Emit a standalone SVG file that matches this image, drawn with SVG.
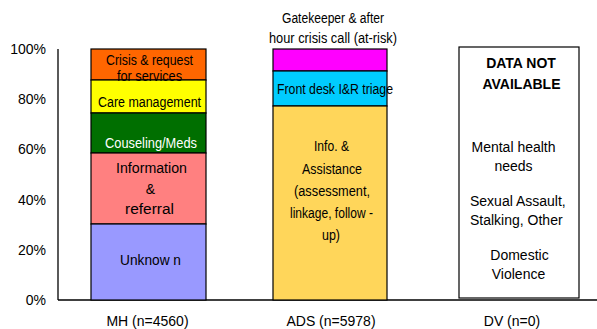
<svg xmlns="http://www.w3.org/2000/svg" width="597" height="329" viewBox="0 0 597 329">
<style>
text{font-family:"Liberation Sans",Arial,sans-serif;font-size:14px;fill:#000}
.c{text-anchor:middle}
.e{text-anchor:end}
.b{font-weight:bold}
.w{fill:#fff}
.seg{stroke:#000;stroke-width:1.2}
.ax{stroke:#000;stroke-width:1.3;fill:none}
</style>
<rect width="597" height="329" fill="#fff"/>
<g id="axes">
<line class="ax" x1="58" y1="49" x2="58" y2="300"/>
<line class="ax" x1="58" y1="300" x2="597" y2="300"/>
<text class="e" x="46" y="54">100%</text>
<text class="e" x="46" y="104">80%</text>
<text class="e" x="46" y="154">60%</text>
<text class="e" x="46" y="205">40%</text>
<text class="e" x="46" y="255">20%</text>
<text class="e" x="46" y="305">0%</text>
<text class="c" x="147.5" y="325.5">MH (n=4560)</text>
<text class="c" x="331" y="325.5">ADS (n=5978)</text>
<text class="c" x="512" y="325.5">DV (n=0)</text>
</g>
<g id="connectors"></g>
<g id="mh-bar">
<rect class="seg" x="91" y="49" width="115" height="31" fill="#FF6600"/>
<rect class="seg" x="91" y="80" width="115" height="33" fill="#FFFF00"/>
<rect class="seg" x="91" y="113" width="115" height="40" fill="#006F00"/>
<rect class="seg" x="91" y="153" width="115" height="71" fill="#FF8080"/>
<rect class="seg" x="91" y="224" width="115" height="76" fill="#9999FF"/>
<text x="106" y="65" textLength="87" lengthAdjust="spacingAndGlyphs">Crisis &amp; request</text>
<text x="117" y="80.5" textLength="65" lengthAdjust="spacingAndGlyphs">for services</text>
<text x="98" y="107" textLength="103" lengthAdjust="spacingAndGlyphs">Care management</text>
<text class="w" x="105" y="148" textLength="92" lengthAdjust="spacingAndGlyphs">Couseling/Meds</text>
<text x="116" y="173" textLength="71" lengthAdjust="spacingAndGlyphs">Information</text>
<text class="c" x="150.5" y="193.5">&amp;</text>
<text x="125" y="214" textLength="49" lengthAdjust="spacingAndGlyphs">referral</text>
<text x="120" y="265" textLength="61" lengthAdjust="spacingAndGlyphs">Unknow n</text>
</g>
<g id="ads-bar">
<rect class="seg" x="273" y="49" width="114" height="22" fill="#FF00FF"/>
<rect class="seg" x="273" y="71" width="114" height="35" fill="#00CCFF"/>
<rect class="seg" x="273" y="106" width="114" height="194" fill="#FFD65A"/>
<text x="282" y="22.5" textLength="102" lengthAdjust="spacingAndGlyphs">Gatekeeper &amp; after</text>
<text x="269" y="43" textLength="128" lengthAdjust="spacingAndGlyphs">hour crisis call (at-risk)</text>
<text x="277" y="94" textLength="116" lengthAdjust="spacingAndGlyphs">Front desk I&amp;R triage</text>
<text x="314" y="150.5" textLength="35" lengthAdjust="spacingAndGlyphs">Info. &amp;</text>
<text x="302" y="174" textLength="60" lengthAdjust="spacingAndGlyphs">Assistance</text>
<text x="294" y="196" textLength="76" lengthAdjust="spacingAndGlyphs">(assessment,</text>
<text x="290" y="218" textLength="83" lengthAdjust="spacingAndGlyphs">linkage, follow -</text>
<text x="322" y="240" textLength="18" lengthAdjust="spacingAndGlyphs">up)</text>
</g>
<g id="dv-box">
<rect class="seg" x="459" y="47" width="120" height="251" fill="#fff"/>
<text class="c b" x="521" y="68">DATA NOT</text>
<text class="c b" x="521.5" y="89">AVAILABLE</text>
<text class="c" x="513.5" y="152">Mental health</text>
<text class="c" x="513.5" y="171">needs</text>
<text x="470" y="206">Sexual Assault,</text>
<text x="470" y="225">Stalking, Other</text>
<text class="c" x="519.5" y="260">Domestic</text>
<text class="c" x="518.5" y="279">Violence</text>
</g>
</svg>
